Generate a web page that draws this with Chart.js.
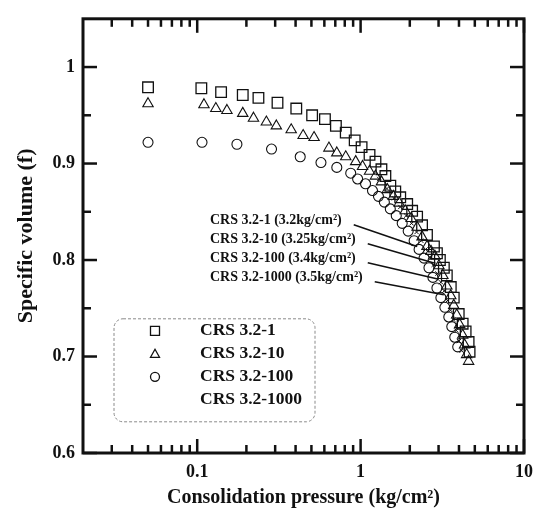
<!DOCTYPE html>
<html>
<head>
<meta charset="utf-8">
<script src="https://cdn.jsdelivr.net/npm/chart.js@4/dist/chart.umd.min.js"></script>
<style>
  html, body { margin: 0; padding: 0; background: #fff; }
</style>
</head>
<body>
<canvas id="consolidationChart" width="542" height="521"></canvas>
<script>
// series names
const seriesNames = ['CRS 3.2-1', 'CRS 3.2-10', 'CRS 3.2-100', 'CRS 3.2-1000'];

// CRS 3.2-1 (squares)
const pressure1 = [0.050, 0.106, 0.140, 0.190, 0.237, 0.310, 0.404, 0.505, 0.605, 0.706, 0.811, 0.920,
  1.014, 1.134, 1.233, 1.341, 1.418, 1.520, 1.630, 1.748, 1.928, 2.067, 2.217, 2.377, 2.548, 2.811,
  2.931, 3.056, 3.232, 3.370, 3.563, 3.716, 3.985, 4.213, 4.393, 4.581, 4.645];
const volume1 = [0.979, 0.978, 0.974, 0.971, 0.968, 0.963, 0.957, 0.950, 0.946, 0.939, 0.932, 0.924,
  0.917, 0.909, 0.902, 0.894, 0.887, 0.877, 0.871, 0.865, 0.858, 0.851, 0.845, 0.836, 0.826, 0.814,
  0.807, 0.800, 0.792, 0.784, 0.772, 0.761, 0.744, 0.734, 0.726, 0.715, 0.705];

// CRS 3.2-10 (triangles)
const pressure2 = [0.050, 0.110, 0.130, 0.152, 0.190, 0.221, 0.265, 0.305, 0.376, 0.445, 0.519, 0.640,
  0.715, 0.811, 0.933, 1.028, 1.134, 1.233, 1.341, 1.458, 1.585, 1.724, 1.875, 2.039, 2.217, 2.377,
  2.548, 2.696, 2.850, 3.014, 3.187, 3.370, 3.563, 3.716, 3.875, 4.041, 4.213, 4.331, 4.455, 4.581];
const volume2 = [0.962, 0.961, 0.957, 0.955, 0.952, 0.947, 0.943, 0.939, 0.935, 0.929, 0.927, 0.916,
  0.911, 0.907, 0.902, 0.897, 0.892, 0.887, 0.881, 0.873, 0.866, 0.859, 0.851, 0.843, 0.834, 0.824,
  0.814, 0.809, 0.804, 0.794, 0.784, 0.773, 0.763, 0.753, 0.743, 0.733, 0.722, 0.712, 0.702, 0.695];

// CRS 3.2-100 (circles)
const pressure3 = [0.050, 0.107, 0.175, 0.285, 0.427, 0.572, 0.715, 0.870, 0.959, 1.072, 1.182, 1.286,
  1.398, 1.520, 1.653, 1.797, 1.955, 2.126, 2.280, 2.444, 2.620, 2.771, 2.931, 3.099, 3.278, 3.465,
  3.614, 3.769, 3.929];
const volume3 = [0.922, 0.922, 0.920, 0.915, 0.907, 0.901, 0.896, 0.890, 0.884, 0.879, 0.872, 0.866,
  0.860, 0.853, 0.846, 0.838, 0.830, 0.820, 0.811, 0.802, 0.792, 0.782, 0.771, 0.761, 0.751, 0.741,
  0.731, 0.720, 0.710];

// CRS 3.2-1000 (small marks hidden in the dense part)
const pressure4 = [1.30, 1.45, 1.60, 1.75, 1.90, 2.05, 2.20, 2.35, 2.50, 2.65, 2.80, 2.95, 3.10, 3.25,
  3.40, 3.55, 3.70, 3.85, 4.00, 4.15];
const volume4 = [0.884, 0.874, 0.864, 0.855, 0.846, 0.838, 0.829, 0.820, 0.811, 0.803, 0.795, 0.786,
  0.777, 0.768, 0.758, 0.748, 0.738, 0.727, 0.716, 0.706];

// ticks
const xMajorTicks = [0.1, 1, 10];
const xMinorTicks = [0.03, 0.04, 0.05, 0.06, 0.07, 0.08, 0.09, 0.2, 0.3, 0.4, 0.5, 0.6, 0.7, 0.8, 0.9,
  2, 3, 4, 5, 6, 7, 8, 9];
const yMajorTicks = [0.6, 0.7, 0.8, 0.9, 1];
const yMinorTicks = [0.65, 0.75, 0.85, 0.95];

// notes with leader lines
const noteLabels = ['CRS 3.2-1 (3.2kg/cm²)', 'CRS 3.2-10 (3.25kg/cm²)', 'CRS 3.2-100 (3.4kg/cm²)', 'CRS 3.2-1000 (3.5kg/cm²)'];
const notePressure = [2.22, 2.81, 3.01, 3.23];
const noteVolume = [0.814, 0.797, 0.780, 0.764];

const pointStyles = ['rect', 'triangle', 'circle', 'crossRot'];
const ink = '#111';
const serif = 'Liberation Serif';

function toPoints(px, vy) {
    return px.map((p, i) => ({ x: p, y: vy[i] }));
}

// frame, inward ticks, notes and legend box
const framePlugin = {
    id: 'frame',
    afterDraw(chart) {
        const { ctx, chartArea: a, scales: { x, y } } = chart;
        ctx.save();
        ctx.strokeStyle = ink;
        ctx.lineCap = 'butt';

        const line = (x1, y1, x2, y2) => {
            ctx.beginPath();
            ctx.moveTo(x1, y1);
            ctx.lineTo(x2, y2);
            ctx.stroke();
        };

        ctx.lineWidth = 2.5;
        xMajorTicks.forEach(v => {
            const px = x.getPixelForValue(v);
            line(px, a.bottom, px, a.bottom - 14);
            line(px, a.top, px, a.top + 14);
        });
        xMinorTicks.forEach(v => {
            const px = x.getPixelForValue(v);
            line(px, a.bottom, px, a.bottom - 8);
            line(px, a.top, px, a.top + 8);
        });
        yMajorTicks.forEach(v => {
            const py = y.getPixelForValue(v);
            line(a.left, py, a.left + 14, py);
            line(a.right, py, a.right - 14, py);
        });
        yMinorTicks.forEach(v => {
            const py = y.getPixelForValue(v);
            line(a.left, py, a.left + 8, py);
            line(a.right, py, a.right - 8, py);
        });

        ctx.lineWidth = 3;
        ctx.strokeRect(a.left, a.top, a.right - a.left, a.bottom - a.top);

        // notes
        ctx.font = 'bold 14px "' + serif + '"';
        ctx.fillStyle = ink;
        ctx.textAlign = 'left';
        ctx.textBaseline = 'middle';
        ctx.lineWidth = 1.5;
        noteLabels.forEach((txt, i) => {
            const tx = a.left + 127;
            const ty = a.top + 202 + i * 19;
            ctx.fillText(txt, tx, ty);
            const w = ctx.measureText(txt).width;
            line(tx + w + 12, ty + 4, x.getPixelForValue(notePressure[i]), y.getPixelForValue(noteVolume[i]));
        });

        // legend box
        const bx = a.left + 31, by = a.top + 300, bw = 201, bh = 103;
        ctx.strokeStyle = '#8a8a8a';
        ctx.lineWidth = 1;
        ctx.setLineDash([3, 2]);
        ctx.beginPath();
        ctx.roundRect(bx, by, bw, bh, 9);
        ctx.stroke();
        ctx.setLineDash([]);

        ctx.font = 'bold 17.5px "' + serif + '"';
        ctx.strokeStyle = ink;
        ctx.lineWidth = 1.3;
        seriesNames.forEach((name, i) => {
            const ry = a.top + 312 + i * 23;
            const sx = a.left + 72;
            ctx.beginPath();
            if (i === 0) {
                ctx.rect(sx - 4.5, ry - 4.5, 9, 9);
            } else if (i === 1) {
                ctx.moveTo(sx, ry - 4.5);
                ctx.lineTo(sx + 4.5, ry + 3.5);
                ctx.lineTo(sx - 4.5, ry + 3.5);
                ctx.closePath();
            } else if (i === 2) {
                ctx.arc(sx, ry, 4.5, 0, Math.PI * 2);
            }
            ctx.stroke();
            ctx.fillText(name, a.left + 117, ry);
        });
        ctx.restore();
    }
};

const ctx = document.getElementById('consolidationChart').getContext('2d');
const consolidationChart = new Chart(ctx, {
    type: 'scatter',
    data: {
        datasets: [
            { label: seriesNames[0], data: toPoints(pressure1, volume1), pointStyle: pointStyles[0], pointRadius: 7.5, borderWidth: 1.3 },
            { label: seriesNames[1], data: toPoints(pressure2, volume2), pointStyle: pointStyles[1], pointRadius: 6, borderWidth: 1.1 },
            { label: seriesNames[2], data: toPoints(pressure3, volume3), pointStyle: pointStyles[2], pointRadius: 5, borderWidth: 1.1 },
            { label: seriesNames[3], data: toPoints(pressure4, volume4), pointStyle: pointStyles[3], pointRadius: 3, borderWidth: 1 }
        ].map(ds => Object.assign(ds, { borderColor: ink, backgroundColor: 'rgba(0,0,0,0)', pointHoverRadius: ds.pointRadius }))
    },
    options: {
        responsive: false,
        animation: false,
        layout: { padding: { top: 12, right: 14, left: 0, bottom: 0 } },
        plugins: {
            legend: { display: false },
            tooltip: { enabled: false }
        },
        scales: {
            x: {
                type: 'logarithmic',
                min: 0.02,
                max: 10,
                grid: { display: false, drawTicks: false },
                border: { display: false },
                afterBuildTicks: s => { s.ticks = xMajorTicks.map(v => ({ value: v })); },
                afterFit: s => { s.height = 68; },
                ticks: {
                    color: ink,
                    padding: 9,
                    maxRotation: 0,
                    autoSkip: false,
                    font: { family: serif, size: 18, weight: 'bold' },
                    callback: v => String(v)
                },
                title: {
                    display: true,
                    text: 'Consolidation pressure (kg/cm²)',
                    color: ink,
                    font: { family: serif, size: 20, weight: 'bold' },
                    padding: { top: 0, bottom: 11 }
                }
            },
            y: {
                min: 0.6,
                max: 1.05,
                grid: { display: false, drawTicks: false },
                border: { display: false },
                afterBuildTicks: s => { s.ticks = yMajorTicks.map(v => ({ value: v })); },
                afterFit: s => { s.width = 83; },
                ticks: {
                    color: ink,
                    padding: 8,
                    font: { family: serif, size: 18, weight: 'bold' },
                    callback: v => String(v)
                },
                title: {
                    display: true,
                    text: 'Specific volume (f)',
                    color: ink,
                    font: { family: serif, size: 22, weight: 'bold' },
                    padding: { top: 13, bottom: 0 }
                }
            }
        }
    },
    plugins: [framePlugin]
});
</script>
</body>
</html>
